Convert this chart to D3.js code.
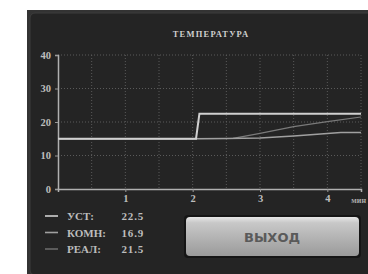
<!DOCTYPE html>
<html><head><meta charset="utf-8">
<script src="https://cdn.jsdelivr.net/npm/d3@7"></script>
<style>html,body{margin:0;padding:0;background:#fff;}svg{display:block;}</style>
</head><body>
<svg id="c" width="368" height="274"></svg>
<script>
const title = "ТЕМПЕРАТУРА";
const yTicks = [0, 10, 20, 30, 40];
const xTicks = [1, 2, 3, 4];
const xUnit = "мин";
const setT = [0, 2.05, 2.1, 4.5];
const setV = [15, 15, 22.5, 22.5];
const roomT = [0, 2, 2.5, 3, 3.5, 4, 4.2, 4.5];
const roomV = [15, 15, 15.05, 15.2, 15.8, 16.6, 16.9, 16.9];
const realT = [0, 2, 2.6, 3, 3.5, 4, 4.5];
const realV = [15, 15, 15.1, 16.6, 18.6, 20.1, 21.5];
const legendLabels = ["УСТ:", "КОМН:", "РЕАЛ:"];
const legendValues = ["22.5", "16.9", "21.5"];
const buttonLabel = "ВЫХОД";

const svg = d3.select("#c");
const defs = svg.append("defs");
const g1 = defs.append("linearGradient").attr("id","btn").attr("x1",0).attr("y1",0).attr("x2",0).attr("y2",1);
g1.append("stop").attr("offset","0").attr("stop-color","#e6e6e6");
g1.append("stop").attr("offset","0.15").attr("stop-color","#c8c8c8");
g1.append("stop").attr("offset","1").attr("stop-color","#9a9a9a");

// panel
svg.append("rect").attr("x",27).attr("y",10).attr("width",345).attr("height",268).attr("fill","#333");
svg.append("rect").attr("x",30).attr("y",13).attr("width",345).attr("height",262).attr("rx",5).attr("fill","#242424").attr("stroke","#3c3c3c").attr("stroke-width",1);

const x = d3.scaleLinear().domain([0, 4.5]).range([58, 361]);
const y = d3.scaleLinear().domain([0, 40]).range([189, 55]);

svg.append("text").attr("x",211).attr("y",37).attr("text-anchor","middle")
  .attr("font-family","Liberation Serif").attr("font-weight","bold").attr("font-size",8.5)
  .attr("letter-spacing",1.2).attr("fill","#cfcfcf").text(title);

// grid
const grid = svg.append("g").attr("stroke","#5a5a5a").attr("stroke-width",1).attr("stroke-dasharray","1,2");
d3.range(0.5, 4.51, 0.5).forEach(t => grid.append("line").attr("x1",x(t)).attr("x2",x(t)).attr("y1",y(40)).attr("y2",y(0)));
yTicks.filter(v=>v>0).forEach(v => grid.append("line").attr("x1",x(0)).attr("x2",x(4.5)).attr("y1",y(v)).attr("y2",y(v)));

// axes
const yAxis = svg.append("g").attr("transform",`translate(${x(0)},0)`)
  .call(d3.axisLeft(y).tickValues(yTicks).tickFormat(d3.format("d")).tickSize(3).tickPadding(4));
yAxis.select(".domain").attr("stroke","#b0b0b0").attr("stroke-width",1.5);
const xAxis = svg.append("g").attr("transform",`translate(0,${y(0)})`)
  .call(d3.axisBottom(x).tickValues(xTicks).tickFormat(d3.format("d")).tickSize(3).tickPadding(3));
xAxis.select(".domain").attr("stroke","#b0b0b0").attr("stroke-width",1.5);
[yAxis, xAxis].forEach(a => {
  a.selectAll(".tick line").attr("stroke","#999");
  a.selectAll("text").attr("fill","#bdbdbd").attr("font-family","Liberation Serif").attr("font-weight","bold").attr("font-size",10.5);
});
svg.append("text").attr("x",366).attr("y",203).attr("text-anchor","end")
  .attr("font-family","Liberation Serif").attr("font-weight","bold").attr("font-size",8)
  .attr("fill","#aaaaaa").text(xUnit);

const line = d3.line().x(d=>x(d[0])).y(d=>y(d[1]));
const series = [
  {t: realT, v: realV, c: "#7a7a7a", w: 1.2},
  {t: roomT, v: roomV, c: "#a0a0a0", w: 1.5},
  {t: setT, v: setV, c: "#d0d0d0", w: 2}
];
series.forEach(s => {
  svg.append("path").datum(s.t.map((t,i)=>[t, s.v[i]])).attr("d", line)
    .attr("fill","none").attr("stroke", s.c).attr("stroke-width", s.w);
});

// legend
const legColors = ["#d0d0d0","#a0a0a0","#6a6a6a"];
legendLabels.forEach((l,i) => {
  const yy = 216 + i*16.5;
  svg.append("line").attr("x1",45).attr("x2",58).attr("y1",yy).attr("y2",yy).attr("stroke",legColors[i]).attr("stroke-width",1.6);
  svg.append("text").attr("x",67).attr("y",yy+4).attr("font-family","Liberation Serif").attr("font-weight","bold")
    .attr("font-size",11).attr("fill","#bdbdbd").text(l);
  svg.append("text").attr("x",144).attr("y",yy+4).attr("text-anchor","end").attr("font-family","Liberation Serif").attr("font-weight","bold")
    .attr("font-size",11).attr("letter-spacing",0.8).attr("fill","#bdbdbd").text(legendValues[i]);
});

// button
svg.append("rect").attr("x",184).attr("y",215).attr("width",177).attr("height",43).attr("rx",4).attr("fill","#151515");
svg.append("rect").attr("x",186).attr("y",217).attr("width",173).attr("height",39).attr("rx",4).attr("fill","url(#btn)");
svg.append("text").attr("x",272).attr("y",242).attr("text-anchor","middle")
  .attr("font-family","DejaVu Sans").attr("font-weight","bold").attr("font-size",13)
  .attr("fill","#5a5a5a").text(buttonLabel);
</script>
</body></html>
